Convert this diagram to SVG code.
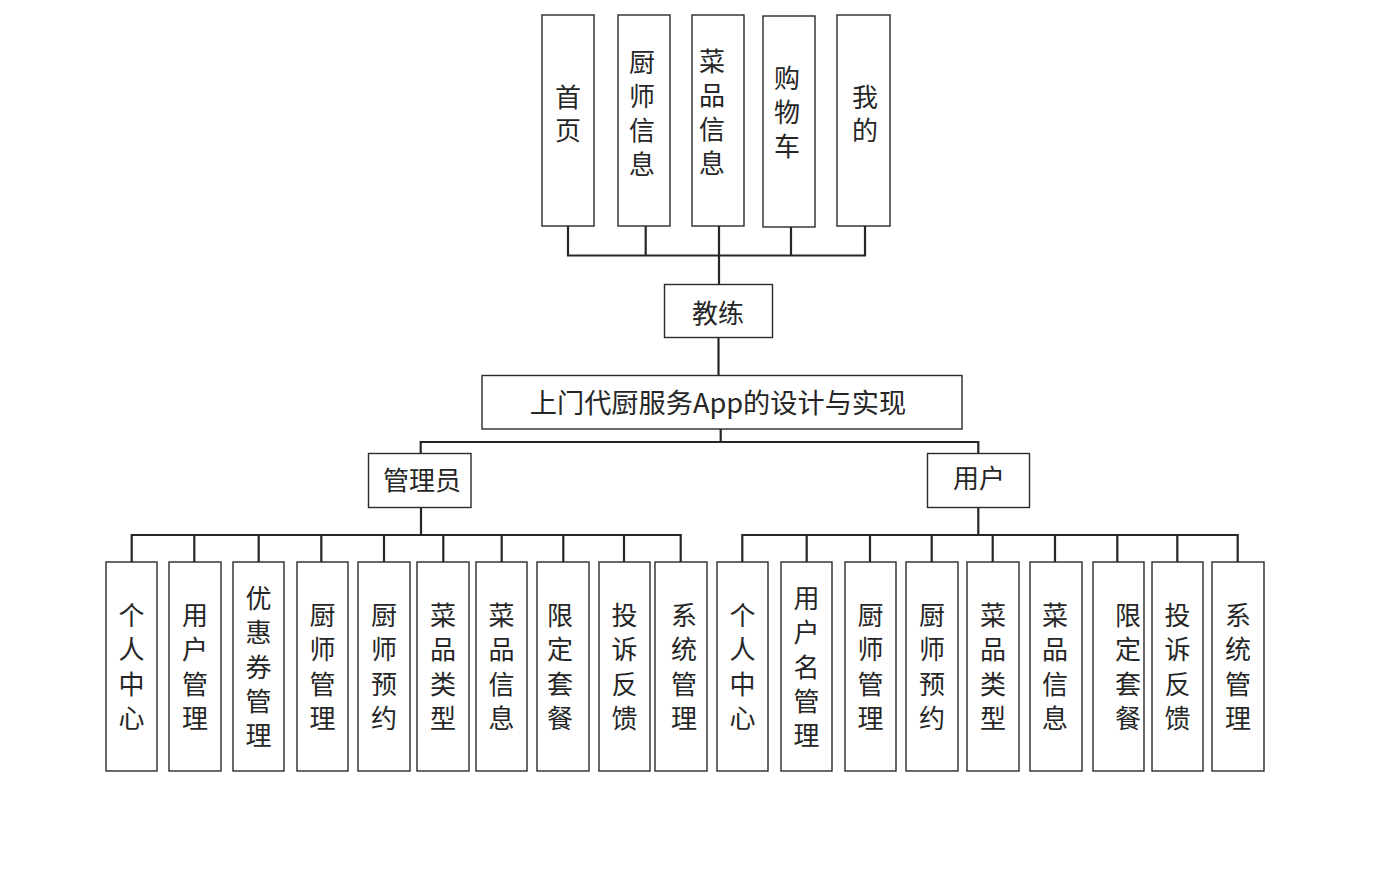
<svg xmlns="http://www.w3.org/2000/svg" width="1395" height="869" viewBox="0 0 1395 869">
<style>
.box{fill:#fff;stroke:#2a2a2a;stroke-width:1.4}
.ln{fill:none;stroke:#262626;stroke-width:2.2}
text{font-family:"Noto Sans CJK SC","Noto Sans",sans-serif;font-size:26px;fill:#262626;text-anchor:middle;dominant-baseline:central}
.title{font-size:27.2px}
</style>
<rect width="1395" height="869" fill="#fff"/>
<g id="connectors">
<path class="ln" d="M568,226V255.5H865V226M645.7,226V255.5M719,226V284M791,227V255.5"/>
<path class="ln" d="M718.5,337V375"/>
<path class="ln" d="M720.7,429V442M420.7,453V442H978.3V453"/>
<path class="ln" d="M421,507V535M131.7,562V535H680.7V562M194.3,535V562M258.7,535V562M321.3,535V562M384,535V562M443.3,535V562M501.7,535V562M563.3,535V562M624,535V562"/>
<path class="ln" d="M978.3,507V535M742.3,562V535H1237.7V562M806.7,535V562M870,535V562M931.7,535V562M992.7,535V562M1055,535V562M1117.3,535V562M1177.3,535V562"/>
</g>
<g id="n-shouye"><rect class="box" x="542" y="15" width="52" height="211"/><text><tspan x="568" y="94.5">首</tspan><tspan x="568" y="128.2">页</tspan></text></g>
<g id="n-chushixinxi"><rect class="box" x="618" y="15" width="52" height="211"/><text><tspan x="642" y="59.5">厨</tspan><tspan x="642" y="93.5">师</tspan><tspan x="642" y="127.5">信</tspan><tspan x="642" y="161.5">息</tspan></text></g>
<g id="n-caipinxinxi"><rect class="box" x="692" y="15" width="52" height="211"/><text><tspan x="712" y="59">菜</tspan><tspan x="712" y="93">品</tspan><tspan x="712" y="127">信</tspan><tspan x="712" y="161">息</tspan></text></g>
<g id="n-gouwuche"><rect class="box" x="763" y="16" width="52" height="211"/><text><tspan x="787" y="75.5">购</tspan><tspan x="787" y="109.5">物</tspan><tspan x="787" y="143.5">车</tspan></text></g>
<g id="n-wode"><rect class="box" x="837" y="15" width="53" height="211"/><text><tspan x="865" y="94.5">我</tspan><tspan x="865" y="128.2">的</tspan></text></g>
<g id="n-jiaolian"><rect class="box" x="664.5" y="284.5" width="108" height="53"/><text x="718" y="311">教练</text></g>
<g id="n-root"><rect class="box" x="482" y="375.5" width="480" height="53.5"/><text class="title" x="718" y="400.5">上门代厨服务App的设计与实现</text></g>
<g id="n-admin"><rect class="box" x="368.5" y="453.5" width="102.5" height="54"/><text x="422" y="478.5">管理员</text></g>
<g id="n-user"><rect class="box" x="927.5" y="453.5" width="102" height="54"/><text x="979" y="476.5">用户</text></g>

<g id="a1"><rect class="box" x="106" y="562" width="51" height="209"/><text><tspan x="131.5" y="613">个</tspan><tspan x="131.5" y="647.3">人</tspan><tspan x="131.5" y="681.6">中</tspan><tspan x="131.5" y="715.9">心</tspan></text></g>
<g id="a2"><rect class="box" x="169" y="562" width="52" height="209"/><text><tspan x="195" y="613">用</tspan><tspan x="195" y="647.3">户</tspan><tspan x="195" y="681.6">管</tspan><tspan x="195" y="715.9">理</tspan></text></g>
<g id="a3"><rect class="box" x="233" y="562" width="51" height="209"/><text><tspan x="258.5" y="596">优</tspan><tspan x="258.5" y="630.3">惠</tspan><tspan x="258.5" y="664.6">券</tspan><tspan x="258.5" y="698.9">管</tspan><tspan x="258.5" y="733.2">理</tspan></text></g>
<g id="a4"><rect class="box" x="297" y="562" width="51" height="209"/><text><tspan x="322.5" y="613">厨</tspan><tspan x="322.5" y="647.3">师</tspan><tspan x="322.5" y="681.6">管</tspan><tspan x="322.5" y="715.9">理</tspan></text></g>
<g id="a5"><rect class="box" x="358" y="562" width="52" height="209"/><text><tspan x="384" y="613">厨</tspan><tspan x="384" y="647.3">师</tspan><tspan x="384" y="681.6">预</tspan><tspan x="384" y="715.9">约</tspan></text></g>
<g id="a6"><rect class="box" x="417" y="562" width="52" height="209"/><text><tspan x="443" y="613">菜</tspan><tspan x="443" y="647.3">品</tspan><tspan x="443" y="681.6">类</tspan><tspan x="443" y="715.9">型</tspan></text></g>
<g id="a7"><rect class="box" x="476" y="562" width="51" height="209"/><text><tspan x="501.5" y="613">菜</tspan><tspan x="501.5" y="647.3">品</tspan><tspan x="501.5" y="681.6">信</tspan><tspan x="501.5" y="715.9">息</tspan></text></g>
<g id="a8"><rect class="box" x="537" y="562" width="52" height="209"/><text><tspan x="560" y="613">限</tspan><tspan x="560" y="647.3">定</tspan><tspan x="560" y="681.6">套</tspan><tspan x="560" y="715.9">餐</tspan></text></g>
<g id="a9"><rect class="box" x="599" y="562" width="51" height="209"/><text><tspan x="624.5" y="613">投</tspan><tspan x="624.5" y="647.3">诉</tspan><tspan x="624.5" y="681.6">反</tspan><tspan x="624.5" y="715.9">馈</tspan></text></g>
<g id="a10"><rect class="box" x="655" y="562" width="52" height="209"/><text><tspan x="684" y="613">系</tspan><tspan x="684" y="647.3">统</tspan><tspan x="684" y="681.6">管</tspan><tspan x="684" y="715.9">理</tspan></text></g>

<g id="u1"><rect class="box" x="717" y="562" width="51" height="209"/><text><tspan x="742.5" y="613">个</tspan><tspan x="742.5" y="647.3">人</tspan><tspan x="742.5" y="681.6">中</tspan><tspan x="742.5" y="715.9">心</tspan></text></g>
<g id="u2"><rect class="box" x="781" y="562" width="51" height="209"/><text><tspan x="806.5" y="596">用</tspan><tspan x="806.5" y="630.3">户</tspan><tspan x="806.5" y="664.6">名</tspan><tspan x="806.5" y="698.9">管</tspan><tspan x="806.5" y="733.2">理</tspan></text></g>
<g id="u3"><rect class="box" x="845" y="562" width="51" height="209"/><text><tspan x="870.5" y="613">厨</tspan><tspan x="870.5" y="647.3">师</tspan><tspan x="870.5" y="681.6">管</tspan><tspan x="870.5" y="715.9">理</tspan></text></g>
<g id="u4"><rect class="box" x="906" y="562" width="52" height="209"/><text><tspan x="932" y="613">厨</tspan><tspan x="932" y="647.3">师</tspan><tspan x="932" y="681.6">预</tspan><tspan x="932" y="715.9">约</tspan></text></g>
<g id="u5"><rect class="box" x="967" y="562" width="52" height="209"/><text><tspan x="993" y="613">菜</tspan><tspan x="993" y="647.3">品</tspan><tspan x="993" y="681.6">类</tspan><tspan x="993" y="715.9">型</tspan></text></g>
<g id="u6"><rect class="box" x="1030" y="562" width="52" height="209"/><text><tspan x="1055" y="613">菜</tspan><tspan x="1055" y="647.3">品</tspan><tspan x="1055" y="681.6">信</tspan><tspan x="1055" y="715.9">息</tspan></text></g>
<g id="u7"><rect class="box" x="1093" y="562" width="51" height="209"/><text><tspan x="1128" y="613">限</tspan><tspan x="1128" y="647.3">定</tspan><tspan x="1128" y="681.6">套</tspan><tspan x="1128" y="715.9">餐</tspan></text></g>
<g id="u8"><rect class="box" x="1152" y="562" width="51" height="209"/><text><tspan x="1177.5" y="613">投</tspan><tspan x="1177.5" y="647.3">诉</tspan><tspan x="1177.5" y="681.6">反</tspan><tspan x="1177.5" y="715.9">馈</tspan></text></g>
<g id="u9"><rect class="box" x="1212" y="562" width="52" height="209"/><text><tspan x="1238" y="613">系</tspan><tspan x="1238" y="647.3">统</tspan><tspan x="1238" y="681.6">管</tspan><tspan x="1238" y="715.9">理</tspan></text></g>
</svg>
